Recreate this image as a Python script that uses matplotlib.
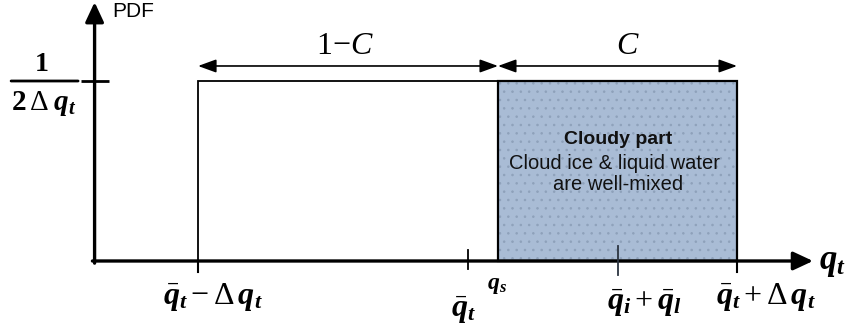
import matplotlib
matplotlib.use("Agg")
import matplotlib.pyplot as plt
from matplotlib.patches import Rectangle

plt.rcParams.update({
    "mathtext.fontset": "custom",
    "mathtext.rm": "Liberation Serif",
    "mathtext.it": "Liberation Serif:italic",
    "mathtext.bf": "Liberation Serif:bold",
    "mathtext.bfit": "Liberation Serif:italic:bold",
    "font.family": ["Liberation Sans", "DejaVu Sans"],
    "hatch.color": "#8ea1ba",
    "hatch.linewidth": 0.6,
})

# ---------------- data ----------------
qt_lower = -1.0          # q̄_t - Δq_t
qt_mean = 0.0            # q̄_t
q_s = 0.113              # saturation value
qil_mean = 0.557         # q̄_i + q̄_l
qt_upper = 1.0           # q̄_t + Δq_t
pdf_value = 0.5          # 1 / (2 Δq_t)
region_labels = [r"$1{-}C$", r"$C$"]
tick_labels = [
    r"$\bar{\mathbfit{q}}_{\mathbfit{t}}-\Delta\,\mathbfit{q}_{\mathbfit{t}}$",
    r"$\bar{\mathbfit{q}}_{\mathbfit{t}}$",
    r"$\bar{\mathbfit{q}}_{\mathbfit{i}}+\bar{\mathbfit{q}}_{\mathbfit{l}}$",
    r"$\bar{\mathbfit{q}}_{\mathbfit{t}}+\Delta\,\mathbfit{q}_{\mathbfit{t}}$",
]
cloud_title = "Cloudy part"
cloud_lines = ["Cloud ice & liquid water", "are well-mixed"]

# ---------------- figure ----------------
fig = plt.figure(figsize=(8.51, 3.30), dpi=100)
ax = fig.add_axes([0, 0, 1, 1])
ax.set_xlim(-1.735, 1.423)
ax.set_ylim(-0.1917, 0.725)
ax.axis("off")

x_axis_start, x_axis_end = -1.392, 1.282
y_axis_x, y_axis_top = -1.384, 0.719

# axes arrows
head = "-|>,head_length=0.6,head_width=0.28"
ax.annotate("", xy=(x_axis_end, 0), xytext=(x_axis_start, 0),
            arrowprops=dict(arrowstyle=head, lw=2.4, color="black",
                            mutation_scale=20, shrinkA=0, shrinkB=0))
ax.annotate("", xy=(y_axis_x, y_axis_top), xytext=(y_axis_x, -0.006),
            arrowprops=dict(arrowstyle=head, lw=2.4, color="black",
                            mutation_scale=20, shrinkA=0, shrinkB=0))

# y tick at pdf value
ax.plot([-1.435, -1.331], [pdf_value, pdf_value], color="black", lw=2.0,
        solid_capstyle="butt")

# clear-sky part rectangle
ax.add_patch(Rectangle((qt_lower, 0), q_s - qt_lower, pdf_value,
                       fill=False, ec="black", lw=1.3, zorder=2))
# cloudy part
ax.add_patch(Rectangle((q_s, 0), qt_upper - q_s, pdf_value,
                       fc="#a9bcd5", ec="#8ea1ba", lw=0, hatch="..", zorder=1))
ax.add_patch(Rectangle((q_s, 0), qt_upper - q_s, pdf_value,
                       fill=False, ec="black", lw=1.6, zorder=2))

# x ticks
ax.plot([qt_lower, qt_lower], [0, -0.03], color="black", lw=1.5, zorder=3)
ax.plot([qt_upper, qt_upper], [0, -0.03], color="black", lw=1.5, zorder=3)
ax.plot([qt_mean, qt_mean], [0.03, -0.022], color="black", lw=1.3, zorder=3)
ax.plot([qil_mean, qil_mean], [0.042, -0.039], color="#2b3440", lw=1.3, zorder=3)

# double arrows on top
arrow_y = 0.5417
for a, b in [(qt_lower, q_s), (q_s, qt_upper)]:
    ax.annotate("", xy=(b, arrow_y), xytext=(a, arrow_y),
                arrowprops=dict(arrowstyle="<|-|>,head_length=0.55,head_width=0.2",
                                lw=1.2, color="black", mutation_scale=20,
                                shrinkA=0, shrinkB=0))
ax.annotate(region_labels[0], xy=((qt_lower + q_s) / 2, arrow_y),
            xytext=(-3, 20), textcoords="offset pixels",
            ha="center", va="center", fontsize=23)
ax.annotate(region_labels[1], xy=((q_s + qt_upper) / 2, arrow_y),
            xytext=(10, 20), textcoords="offset pixels",
            ha="center", va="center", fontsize=23)

# tick labels
ax.annotate(tick_labels[0], xy=(qt_lower, 0), xytext=(15, -36),
            textcoords="offset pixels", ha="center", va="center", fontsize=23)
ax.annotate(tick_labels[1], xy=(qt_mean, 0), xytext=(-4, -49),
            textcoords="offset pixels", ha="center", va="center", fontsize=23)
ax.annotate(r"$\mathbfit{q}_{\mathbfit{s}}$", xy=(q_s, 0), xytext=(-1, -24),
            textcoords="offset pixels", ha="center", va="center", fontsize=17)
ax.annotate(tick_labels[2], xy=(qil_mean, 0), xytext=(27, -42),
            textcoords="offset pixels", ha="center", va="center", fontsize=23)
ax.annotate(tick_labels[3], xy=(qt_upper, 0), xytext=(29, -36),
            textcoords="offset pixels", ha="center", va="center", fontsize=23)
ax.annotate(r"$\mathbfit{q}_{\mathbfit{t}}$", xy=(x_axis_end, 0), xytext=(20, -2),
            textcoords="offset pixels", ha="center", va="center", fontsize=25)

# y label
ax.annotate("PDF", xy=(y_axis_x, y_axis_top), xytext=(39, -9),
            textcoords="offset pixels", ha="center", va="center", fontsize=15)

# fraction 1 / (2 Δ q_t)
ax.annotate(r"$\mathbf{1}$", xy=(y_axis_x, pdf_value), xytext=(-53, 17),
            textcoords="offset pixels", ha="center", va="center", fontsize=20)
ax.annotate("", xy=(y_axis_x - 16.5 / 269.5, pdf_value),
            xytext=(y_axis_x - 83.5 / 269.5, pdf_value),
            arrowprops=dict(arrowstyle="-", lw=2.0, color="black",
                            shrinkA=0, shrinkB=0))
ax.annotate(r"$\mathbf{2}\,\Delta\;\mathbfit{q}_{\mathbfit{t}}$",
            xy=(y_axis_x, pdf_value), xytext=(-51, -23),
            textcoords="offset pixels", ha="center", va="center", fontsize=21)

# cloudy part text
cx, cy = qil_mean, pdf_value / 2
ax.annotate(cloud_title, xy=(cx, cy), xytext=(0, 31), textcoords="offset pixels",
            ha="center", va="center", fontsize=14, fontweight="bold", color="#111111")
ax.annotate(cloud_lines[0], xy=(cx, cy), xytext=(-3, 7), textcoords="offset pixels",
            ha="center", va="center", fontsize=14.5, color="#111111")
ax.annotate(cloud_lines[1], xy=(cx, cy), xytext=(0, -14), textcoords="offset pixels",
            ha="center", va="center", fontsize=14.5, color="#111111")

fig.savefig("out.png", dpi=100)
